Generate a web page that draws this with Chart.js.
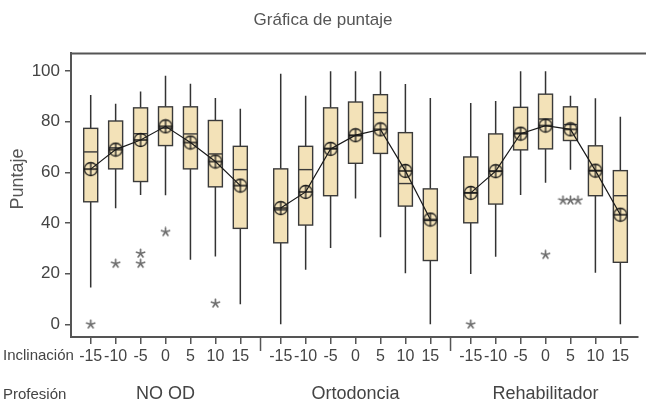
<!DOCTYPE html>
<html><head><meta charset="utf-8">
<script src="https://cdn.jsdelivr.net/npm/chart.js@4.4.1/dist/chart.umd.min.js"></script>
<style>html,body{margin:0;padding:0;background:#fff}</style>
</head><body>
<canvas id="c" width="646" height="405"></canvas>
<script>
// ---- data ----
const professions = ['NO OD', 'Ortodoncia', 'Rehabilitador'];
const inclinations = ['-15', '-10', '-5', '0', '5', '10', '15'];
const yTickValues = [0, 20, 40, 60, 80, 100];
// one entry per box, profession by profession, inclination -15 .. 15
const whiskerLow  = [14.5, 45.8, 51.1, 51.0, 25.5, 26.8, 7.9,   0, 21.6, 30.1, 49.7, 34.4, 20.2, 0,   19.9, 26.7, 51.1, 55.9, 61.1, 20.4, 0];
const quartile1   = [48.4, 61.4, 56.4, 70.6, 61.4, 54.3, 37.9,  32.2, 39.2, 50.8, 63.6, 67.5, 46.7, 25.2,  40.1, 47.5, 68.9, 69.3, 72.6, 50.8, 24.5];
const medians     = [68.1, 69.7, 75.3, 77.5, 75.2, 67.3, 61.1,  45.2, 61.1, 69.5, 74.5, 83.6, 55.6, 41.0,  52.0, 60.5, 75.5, 81.1, 78.9, 60.7, 50.8];
const quartile3   = [77.4, 80.3, 85.5, 85.9, 85.9, 80.5, 70.3,  61.4, 70.3, 85.5, 87.8, 90.7, 75.7, 53.5,  66.1, 75.2, 85.7, 90.9, 85.9, 70.5, 60.7];
const whiskerHigh = [90.6, 87.1, 92.0, 98.2, 95.0, 89.4, 85.1,  99.0, 90.3, 100, 100, 100, 94.9, 89.4,  87.4, 88.2, 100, 100, 90.3, 89.3, 82.0];
const means       = [61.3, 69.0, 72.8, 78.2, 71.8, 64.3, 54.8,  45.9, 52.3, 69.3, 74.7, 77.0, 60.6, 41.4,  51.9, 60.5, 75.3, 78.5, 77.0, 60.7, 43.3];
const outliers    = [[0], [24], [28, 24], [36.5], [], [8.3], [],  [], [], [], [], [], [], [],  [0], [], [], [27.5], [49, 49, 49], [], []];

// ---- layout helpers ----
const groupStride = 7.62;
const posOf = k => Math.floor(k / 7) * groupStride + (k % 7);
const FONT = 'Liberation Sans, Arial, sans-serif';
const NARROW = 'Liberation Sans Narrow, Liberation Sans, Arial, sans-serif';
const boxFill = '#F3E2B8';
const frame = '#555555';

function makeMeanMarker() {
  const c = document.createElement('canvas');
  c.width = 16; c.height = 16;
  const g = c.getContext('2d');
  g.strokeStyle = '#1a1a1a'; g.lineWidth = 1.3;
  g.beginPath(); g.arc(8, 8, 6.5, 0, Math.PI * 2); g.stroke();
  g.beginPath(); g.moveTo(1.5, 8); g.lineTo(14.5, 8); g.moveTo(8, 1.5); g.lineTo(8, 14.5); g.stroke();
  return c;
}
function makeStar() {
  const c = document.createElement('canvas');
  c.width = 11; c.height = 11;
  const g = c.getContext('2d');
  g.strokeStyle = '#6f6f6f'; g.lineWidth = 1.7; g.lineCap = 'round';
  g.beginPath();
  for (let a = 0; a < 5; a++) {
    const ang = -Math.PI / 2 + a * 2 * Math.PI / 5;
    g.moveTo(5.5, 5.5); g.lineTo(5.5 + 4.2 * Math.cos(ang), 5.5 + 4.2 * Math.sin(ang));
  }
  g.stroke();
  return c;
}
const meanMarker = makeMeanMarker();
const starMarker = makeStar();

const meanSets = professions.map((p, g) => ({
  type: 'line', label: p,
  data: inclinations.map((_, i) => ({ x: posOf(g * 7 + i), y: means[g * 7 + i] })),
  borderColor: '#1a1a1a', borderWidth: 1.2, pointStyle: meanMarker, pointRadius: 7,
  tension: 0, order: 1
}));
const outlierPts = [];
outliers.forEach((vals, k) => {
  const counts = {};
  vals.forEach(v => { counts[v] = (counts[v] || 0) + 1; });
  const seen = {};
  vals.forEach(v => {
    const n = counts[v]; const j = seen[v] = (seen[v] || 0) + 1;
    outlierPts.push({ x: posOf(k) + (j - 1 - (n - 1) / 2) * 0.3, y: v });
  });
});

const boxPlugin = {
  id: 'boxes',
  beforeDatasetsDraw(chart) {
    const ctx = chart.ctx, xs = chart.scales.x, ys = chart.scales.y;
    ctx.save();
    for (let k = 0; k < medians.length; k++) {
      const x = xs.getPixelForValue(posOf(k));
      const half = 7;
      const yLo = ys.getPixelForValue(whiskerLow[k]), yQ1 = ys.getPixelForValue(quartile1[k]);
      const yMed = ys.getPixelForValue(medians[k]), yQ3 = ys.getPixelForValue(quartile3[k]);
      const yHi = ys.getPixelForValue(whiskerHigh[k]);
      ctx.strokeStyle = '#333'; ctx.lineWidth = 1.5;
      ctx.beginPath();
      ctx.moveTo(x, yLo); ctx.lineTo(x, yQ1);
      ctx.moveTo(x, yQ3); ctx.lineTo(x, yHi);
      ctx.stroke();
      ctx.fillStyle = boxFill;
      ctx.fillRect(x - half, yQ3, half * 2, yQ1 - yQ3);
      ctx.strokeStyle = '#3a3a3a'; ctx.lineWidth = 1.4;
      ctx.strokeRect(x - half, yQ3, half * 2, yQ1 - yQ3);
      ctx.beginPath(); ctx.moveTo(x - half, yMed); ctx.lineTo(x + half, yMed); ctx.stroke();
    }
    ctx.restore();
  },
  afterDraw(chart) {
    const ctx = chart.ctx, xs = chart.scales.x, a = chart.chartArea;
    ctx.save();
    ctx.strokeStyle = frame; ctx.lineWidth = 2;
    ctx.beginPath(); ctx.moveTo(a.left - 1, a.top); ctx.lineTo(chart.width, a.top); ctx.stroke();
    ctx.lineWidth = 1.5;
    for (let g = 0; g < professions.length - 1; g++) {
      const sx = xs.getPixelForValue(g * groupStride + (6 + groupStride) / 2);
      ctx.beginPath(); ctx.moveTo(sx, a.bottom); ctx.lineTo(sx, a.bottom + 14); ctx.stroke();
    }
    ctx.fillStyle = '#444'; ctx.textBaseline = 'middle';
    ctx.textAlign = 'left';
    ctx.font = '15px ' + NARROW;
    ctx.fillText('Inclinación', 3, 356);
    ctx.fillText('Profesión', 3, 395);
    ctx.textAlign = 'center';
    ctx.font = '18px ' + FONT;
    professions.forEach((p, g) => {
      ctx.fillText(p, xs.getPixelForValue(posOf(g * 7 + 3)), 394);
    });
    // y axis title
    ctx.save();
    ctx.translate(18, 179);
    ctx.rotate(-Math.PI / 2);
    ctx.fillStyle = '#555';
    ctx.font = '18px ' + FONT;
    ctx.fillText('Puntaje', 0, 0);
    ctx.restore();
    ctx.restore();
  }
};

new Chart(document.getElementById('c'), {
  type: 'line',
  data: {
    datasets: [
      ...meanSets,
      { type: 'scatter', label: 'outliers', data: outlierPts, pointStyle: starMarker, pointRadius: 5, showLine: false, order: 2 }
    ]
  },
  options: {
    responsive: false, animation: false,
    layout: { padding: { left: 0, right: 0, bottom: 0, top: 0 } },
    plugins: {
      legend: { display: false }, tooltip: { enabled: false },
      title: { display: true, text: 'Gráfica de puntaje', color: '#555', font: { family: FONT, size: 17, weight: 'normal' }, padding: { top: 10, bottom: 23 } }
    },
    scales: {
      x: {
        type: 'linear', min: -0.79, max: 21.94,
        afterBuildTicks: s => { s.ticks = medians.map((_, k) => ({ value: posOf(k) })); },
        afterFit: s => { s.height = 68; },
        ticks: { autoSkip: false, maxRotation: 0, color: '#444', padding: 3,
          font: { family: NARROW, size: 16 },
          callback: (v, i) => inclinations[i % 7] },
        grid: { drawOnChartArea: false, tickLength: 7, color: frame, lineWidth: 1.5 },
        border: { color: frame, width: 2 }
      },
      y: {
        min: -5, max: 107,
        afterBuildTicks: s => { s.ticks = yTickValues.map(v => ({ value: v })); },
        afterFit: s => { s.width = 71; },
        ticks: { color: '#444', padding: 5, font: { family: FONT, size: 17 } },
        grid: { drawOnChartArea: false, tickLength: 6, color: frame, lineWidth: 1.5 },
        border: { color: frame, width: 2 }
      }
    }
  },
  plugins: [boxPlugin]
});
</script>
</body></html>
